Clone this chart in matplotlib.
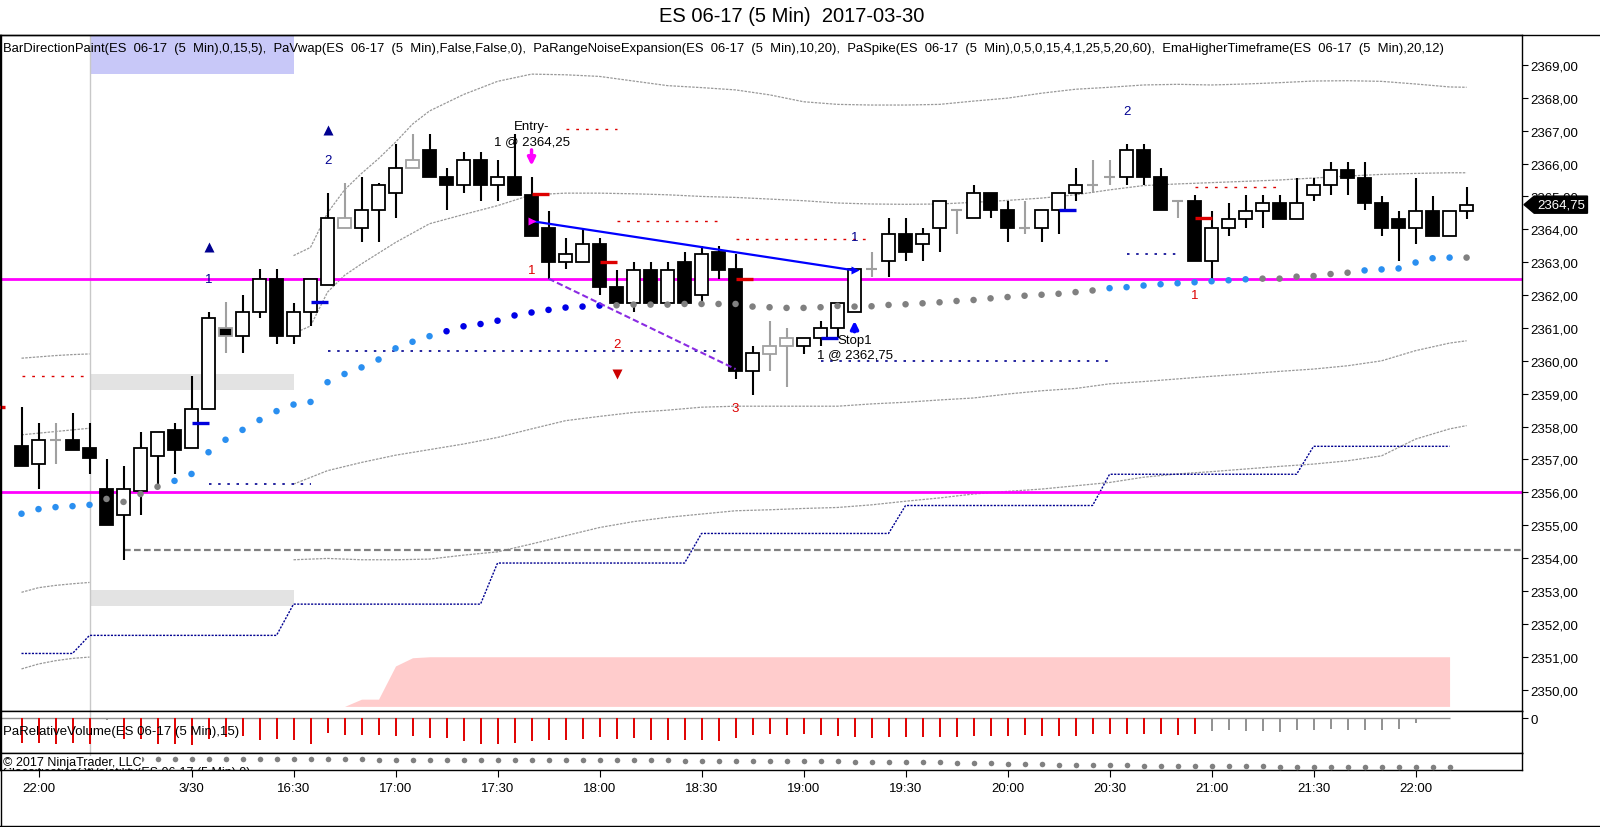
"""Recreate the NinjaTrader ES 06-17 5-minute chart for 2017-03-30."""

import matplotlib

matplotlib.use("Agg")
import matplotlib.pyplot as plt
from matplotlib.lines import Line2D
from matplotlib.patches import Polygon, Rectangle
from matplotlib.transforms import blended_transform_factory

plt.rcParams["font.family"] = ["Liberation Sans", "DejaVu Sans"]

# ---------------------------------------------------------------- data
opens = [2357.4, 2356.85, 2357.6, 2357.6, 2357.35, 2356.1, 2355.3, 2356.05, 2357.1, 2357.9,
         2357.35, 2358.55, 2361.0, 2360.75, 2361.5, 2362.5, 2360.75, 2361.5, 2362.3, 2364.05,
         2364.05, 2364.6, 2365.1, 2365.85, 2366.4, 2365.6, 2365.35, 2366.1, 2365.35, 2365.6,
         2365.05, 2364.05, 2363.0, 2363.0, 2363.55, 2362.25, 2361.75, 2362.75, 2361.75, 2363.0,
         2362.0, 2363.3, 2362.8, 2359.7, 2360.2, 2360.45, 2360.45, 2360.7, 2361.0, 2361.5,
         2362.8, 2363.05, 2363.85, 2363.55, 2364.05, 2364.6, 2364.35, 2365.1, 2364.6, 2364.05,
         2364.05, 2364.6, 2365.1, 2365.35, 2365.6, 2365.6, 2366.4, 2365.6, 2364.85, 2364.85,
         2363.05, 2364.05, 2364.3, 2364.55, 2364.8, 2364.3, 2365.05, 2365.35, 2365.8, 2365.55,
         2364.8, 2364.3, 2364.05, 2364.55, 2363.8, 2364.55]
highs = [2358.6, 2358.1, 2358.1, 2358.4, 2358.1, 2357.0, 2356.8, 2357.85, 2357.85, 2358.1,
         2359.55, 2361.5, 2361.8, 2362.0, 2362.8, 2362.8, 2361.75, 2362.5, 2365.1, 2365.4,
         2365.6, 2365.4, 2366.6, 2366.9, 2366.9, 2365.85, 2366.35, 2366.35, 2366.1, 2366.9,
         2365.6, 2364.55, 2363.75, 2364.05, 2363.75, 2362.75, 2363.0, 2363.0, 2363.0, 2363.3,
         2363.5, 2363.5, 2363.25, 2360.45, 2361.2, 2361.0, 2360.7, 2361.2, 2361.75, 2362.8,
         2363.3, 2364.35, 2364.35, 2364.05, 2364.85, 2364.6, 2365.35, 2365.1, 2364.85, 2364.85,
         2364.6, 2365.1, 2365.85, 2366.1, 2366.1, 2366.6, 2366.6, 2365.85, 2364.85, 2365.05,
         2364.55, 2364.8, 2365.05, 2365.05, 2365.05, 2365.55, 2365.55, 2366.05, 2366.05, 2366.05,
         2365.0, 2364.55, 2365.55, 2365.0, 2364.55, 2365.3]
lows = [2356.8, 2356.1, 2356.85, 2357.3, 2356.55, 2355.0, 2353.95, 2355.3, 2356.15, 2356.55,
        2357.35, 2358.55, 2360.25, 2360.25, 2361.3, 2360.5, 2360.5, 2361.05, 2362.3, 2364.05,
        2363.6, 2363.6, 2364.35, 2365.85, 2365.6, 2364.6, 2365.1, 2364.85, 2364.85, 2365.05,
        2363.8, 2362.5, 2362.8, 2363.0, 2362.0, 2361.75, 2361.5, 2361.75, 2361.75, 2361.75,
        2361.75, 2362.5, 2359.45, 2358.95, 2359.7, 2359.2, 2360.2, 2360.45, 2360.7, 2361.5,
        2362.55, 2362.55, 2363.05, 2363.05, 2363.3, 2363.85, 2364.35, 2364.35, 2363.6, 2363.85,
        2363.6, 2363.85, 2364.85, 2365.1, 2365.35, 2365.35, 2365.35, 2364.6, 2364.35, 2363.05,
        2362.5, 2363.8, 2364.05, 2364.05, 2364.3, 2364.3, 2364.85, 2365.05, 2365.05, 2364.6,
        2363.8, 2363.05, 2363.55, 2363.8, 2363.8, 2364.3]
closes = [2356.8, 2357.6, 2357.6, 2357.3, 2357.05, 2355.0, 2356.1, 2357.35, 2357.85, 2357.3,
          2358.55, 2361.3, 2360.75, 2361.5, 2362.5, 2360.75, 2361.5, 2362.5, 2364.35, 2364.35,
          2364.6, 2365.35, 2365.85, 2366.1, 2365.6, 2365.35, 2366.1, 2365.35, 2365.6, 2365.05,
          2363.8, 2363.0, 2363.25, 2363.55, 2362.25, 2361.75, 2362.75, 2361.75, 2362.75, 2361.75,
          2363.25, 2362.75, 2359.7, 2360.25, 2360.45, 2360.7, 2360.7, 2361.0, 2361.75, 2362.8,
          2362.8, 2363.85, 2363.3, 2363.85, 2364.85, 2364.6, 2365.1, 2364.6, 2364.05, 2364.05,
          2364.6, 2365.1, 2365.35, 2365.35, 2365.6, 2366.4, 2365.6, 2364.6, 2364.85, 2363.05,
          2364.05, 2364.3, 2364.55, 2364.8, 2364.3, 2364.8, 2365.35, 2365.8, 2365.55, 2364.8,
          2364.05, 2364.05, 2364.55, 2363.8, 2364.55, 2364.75]
gray_bars = [2, 12, 19, 23, 44, 45, 50, 55, 59, 63, 64, 68]

tick_bars = [1, 10, 16, 22, 28, 34, 40, 46, 52, 58, 64, 70, 76, 82]
tick_labels = ["22:00", "3/30", "16:30", "17:00", "17:30", "18:00", "18:30", "19:00",
               "19:30", "20:00", "20:30", "21:00", "21:30", "22:00"]
session_bar = 4

# PaVwap dots (one per bar) and their colour code: b=blue, d=dark blue, g=gray
vwap_dots = [2355.35, 2355.49, 2355.55, 2355.58, 2355.62, 2355.8, 2355.71, 2355.95, 2356.17, 2356.35,
             2356.56, 2357.22, 2357.6, 2357.9, 2358.2, 2358.47, 2358.67, 2358.75, 2359.35, 2359.6,
             2359.8, 2360.04, 2360.38, 2360.58, 2360.75, 2360.9, 2361.05, 2361.12, 2361.22, 2361.38,
             2361.47, 2361.55, 2361.62, 2361.65, 2361.68, 2361.69, 2361.71, 2361.71, 2361.71, 2361.73,
             2361.73, 2361.73, 2361.73, 2361.65, 2361.63, 2361.61, 2361.61, 2361.63, 2361.67, 2361.65,
             2361.66, 2361.7, 2361.72, 2361.75, 2361.78, 2361.82, 2361.85, 2361.9, 2361.94, 2361.98,
             2362.01, 2362.04, 2362.09, 2362.14, 2362.21, 2362.24, 2362.29, 2362.33, 2362.36, 2362.39,
             2362.42, 2362.45, 2362.48, 2362.5, 2362.5, 2362.56, 2362.58, 2362.64, 2362.68, 2362.75,
             2362.78, 2362.81, 2362.99, 2363.12, 2363.14, 2363.14]
vwap_dot_codes = ("bbbbb" "gggg" "bbbbbbbbbbbbbbbb" "dddddddddd"
                  "ggggggggggggggggggggggggggggg" "bbbbbbbbb" "gggggg" "bbbbbb" "g")

# VWAP bands of the current session
upper_x = [16, 17, 18, 19, 20, 21, 22, 23, 24, 26, 28, 30, 32, 34, 36, 38, 40, 42, 44, 46,
           48, 50, 52, 54, 56, 58, 60, 62, 64, 66, 68, 70, 72, 74, 76, 78, 80, 82, 84, 85]
upper_band = [2363.2, 2363.45, 2364.5, 2365.2, 2365.7, 2366.15, 2366.65, 2367.2, 2367.6, 2368.1,
              2368.5, 2368.72, 2368.7, 2368.65, 2368.51, 2368.37, 2368.31, 2368.24, 2368.09, 2367.88,
              2367.8, 2367.78, 2367.78, 2367.8, 2367.9, 2367.99, 2368.14, 2368.26, 2368.32, 2368.39,
              2368.41, 2368.39, 2368.42, 2368.46, 2368.51, 2368.52, 2368.5, 2368.42, 2368.33, 2368.32]
mid_x = [16, 17, 18, 19, 20, 22, 24, 26, 28, 30, 32, 34, 36, 38, 40, 42, 44, 46, 48, 50,
         52, 54, 56, 58, 60, 62, 64, 66, 68, 70, 72, 74, 76, 78, 80, 82, 84, 85]
mid_band = [2360.83, 2361.06, 2362.09, 2362.6, 2362.95, 2363.6, 2364.17, 2364.45, 2364.72, 2365.05,
            2365.1, 2365.1, 2365.08, 2365.05, 2365.0, 2364.97, 2364.92, 2364.87, 2364.8, 2364.77,
            2364.76, 2364.77, 2364.82, 2364.88, 2364.95, 2365.05, 2365.2, 2365.33, 2365.38, 2365.42,
            2365.46, 2365.5, 2365.56, 2365.62, 2365.67, 2365.7, 2365.72, 2365.72]
lower_x = [16, 18, 20, 22, 24, 26, 28, 30, 32, 34, 36, 38, 40, 42, 44, 46, 48, 50,
           52, 54, 56, 58, 60, 62, 64, 66, 68, 70, 72, 74, 76, 78, 80, 82, 84, 85]
lower_band1 = [2356.25, 2356.66, 2356.91, 2357.13, 2357.3, 2357.47, 2357.67, 2357.93, 2358.18,
               2358.31, 2358.43, 2358.5, 2358.59, 2358.62, 2358.62, 2358.62, 2358.62, 2358.69,
               2358.74, 2358.81, 2358.87, 2358.99, 2359.09, 2359.16, 2359.3, 2359.37, 2359.45,
               2359.53, 2359.6, 2359.68, 2359.75, 2359.85, 2360.0, 2360.31, 2360.54, 2360.61]
lower_band2 = [2353.95, 2353.99, 2353.95, 2353.95, 2353.97, 2354.09, 2354.19, 2354.43, 2354.68,
               2354.93, 2355.11, 2355.24, 2355.34, 2355.44, 2355.47, 2355.51, 2355.54, 2355.62,
               2355.73, 2355.83, 2355.95, 2356.03, 2356.1, 2356.2, 2356.3, 2356.46, 2356.56,
               2356.63, 2356.71, 2356.79, 2356.86, 2356.96, 2357.11, 2357.62, 2357.93, 2358.03]

# Bands of the previous session (bars 0-4)
prev_x = [0, 1, 2, 3, 4]
prev_band_a = [2360.08, 2360.12, 2360.16, 2360.19, 2360.21]
prev_band_b = [2357.75, 2357.8, 2357.85, 2357.9, 2357.95]
prev_band_c = [2352.96, 2353.1, 2353.17, 2353.22, 2353.26]
prev_band_d = [2350.63, 2350.78, 2350.88, 2350.95, 2350.99]

# EmaHigherTimeframe steps
ema_levels = [2351.1, 2351.65, 2352.6, 2353.85, 2354.75, 2355.6, 2356.55, 2357.4]
ema_first_bar = [0, 4, 16, 28, 40, 52, 64, 76]
ema_last_bar = 84

# Key levels
magenta_levels = [2362.5, 2356.0]
gray_dash_level = 2354.25
gray_dash_start = 6

# PaSpike dashed target lines
red_spike_start = [0, 32, 35, 42, 69]
red_spike_end = [4, 35, 41, 50, 74]
red_spike_price = [2359.53, 2367.05, 2364.25, 2363.72, 2365.3]
navy_spike_start = [11, 18, 47, 65]
navy_spike_end = [17, 41, 64, 68]
navy_spike_price = [2356.25, 2360.29, 2360.0, 2363.25]

# Short marker ticks
red_mark_bar = [-2, 30, 34, 42, 69]
red_mark_price = [2358.59, 2365.06, 2363.01, 2362.5, 2364.33]
blue_mark_bar = [10, 17, 47, 61]
blue_mark_price = [2358.11, 2361.78, 2360.7, 2364.6]

# Signal counters
navy_label_bar = [11, 18, 49, 65]
navy_label_price = [2362.5, 2366.1, 2363.77, 2367.6]
navy_label_text = ["1", "2", "1", "2"]
red_label_bar = [30, 35, 42, 69]
red_label_price = [2362.75, 2360.5, 2358.56, 2362.0]
red_label_text = ["1", "2", "3", "1"]
up_tri_bar = [11, 18]
up_tri_price = [2363.46, 2367.03]
down_tri_bar = [35]
down_tri_price = [2359.6]

# Zones
zone_start, zone_end = 4, 16
top_zone_low = 2368.72
gray_zone_lows = [2359.1, 2352.53]
gray_zone_highs = [2359.6, 2353.03]
range_x = [19, 20, 21, 22, 23, 24, 84]
range_top = [2349.49, 2349.71, 2349.71, 2350.72, 2350.97, 2351.0, 2351.0]
range_bottom = 2349.49

# Trade
entry_bar, entry_price = 30, 2364.25
exit_bar, exit_price = 49, 2362.75
swing_start = (31, 2362.5)
swing_end = (42, 2359.75)
last_price = 2364.75

# Relative volume (bars 0-83) and lower indicator dots (bars 0-84)
rel_volume = [-75, -75, -78, -75, -78, -6, -62, -62, -78, -78,
              -82, -62, -57, -55, -65, -62, -65, -78, -45, -50,
              -52, -52, -55, -55, -60, -60, -70, -78, -78, -75,
              -70, -65, -65, -62, -57, -62, -60, -65, -65, -65,
              -65, -70, -60, -52, -48, -52, -49, -52, -55, -58,
              -60, -58, -58, -58, -58, -58, -55, -55, -55, -52,
              -55, -55, -55, -49, -49, -49, -49, -49, -52, -49,
              -40, -37, -40, -40, -42, -37, -37, -34, -37, -37,
              -37, -34, -16, -1]
last_red_volume_bar = 69
weak_volume_bars = [5]
lower_dots = [-20, -20, -20, -20, -20, -20, -20, -20, -20, -20,
              -20, -20, -20, -20, -20, -20, -20, -20, -20, -20,
              -20, -21, -21, -21, -21, -21, -21, -21, -21, -21,
              -21, -23, -23, -23, -23, -23, -23, -23, -23, -25,
              -25, -25, -25, -25, -25, -25, -24, -25, -25, -27,
              -27, -27, -27, -29, -29, -31, -31, -33, -35, -35,
              -35, -37, -38, -38, -38, -38, -40, -40, -40, -40,
              -40, -40, -40, -42, -43, -43, -43, -45, -45, -45,
              -45, -45, -45, -45, -45]

legend_text = ("BarDirectionPaint(ES  06-17  (5  Min),0,15,5),  PaVwap(ES  06-17  (5  Min),False,False,0),  "
               "PaRangeNoiseExpansion(ES  06-17  (5  Min),10,20),  "
               "PaSpike(ES  06-17  (5  Min),0,5,0,15,4,1,25,5,20,60),  "
               "EmaHigherTimeframe(ES  06-17  (5  Min),20,12)")

# ---------------------------------------------------------------- layout
W, H = 1600, 828
XLIM = (-1.265, 88.26)
YLIM = (2349.35, 2369.91)
RED = "#dd0000"
NAVY = "#000090"
GRAY_BAR = "#a0a0a0"
BAND = "#999999"
DOT_COLORS = {"b": "#2a8ff0", "d": "#0000e6", "g": "#808080"}
FS = 9.5


def box(left, top, right, bottom):
    return [left / W, 1 - bottom / H, (right - left) / W, (bottom - top) / H]


fig = plt.figure(figsize=(W / 100, H / 100), dpi=100)
ax = fig.add_axes(box(0, 36, 1522, 712))
axv = fig.add_axes(box(0, 712, 1522, 754))
axd = fig.add_axes(box(0, 754, 1522, 771))

for a in (ax, axv, axd):
    a.set_xlim(*XLIM)
    for s in a.spines.values():
        s.set_linewidth(1.0)
        s.set_color("black")
    a.axvline(session_bar, color="#c8c8c8", lw=1, zorder=1)

ax.set_ylim(*YLIM)

# zones
ax.add_patch(Rectangle((zone_start, top_zone_low), zone_end - zone_start, 3,
                       facecolor="#c8c8f8", edgecolor="none", zorder=0.5))
for lo, hi in zip(gray_zone_lows, gray_zone_highs):
    ax.add_patch(Rectangle((zone_start, lo), zone_end - zone_start, hi - lo,
                           facecolor="#e3e3e3", edgecolor="none", zorder=0.5))
ax.fill_between(range_x, range_bottom, range_top, color="#ffcccc", lw=0, zorder=0.6)

# key levels
for lvl in magenta_levels:
    ax.axhline(lvl, color="#ff00ff", lw=2, zorder=2)
ax.hlines(gray_dash_level, gray_dash_start, XLIM[1], colors="#808080",
          linestyles=(0, (3, 1.5)), lw=1.6, zorder=2)

# vwap bands
band_style = dict(color=BAND, lw=0.9, ls=(0, (2, 1)), zorder=1.5)
ax.plot(upper_x, upper_band, **band_style)
ax.plot(mid_x, mid_band, **band_style)
ax.plot(lower_x, lower_band1, **band_style)
ax.plot(lower_x, lower_band2, **band_style)
for band in (prev_band_a, prev_band_b, prev_band_c, prev_band_d):
    ax.plot(prev_x, band, **band_style)

# higher timeframe ema steps
ema_x, ema_y = [], []
for k, lvl in enumerate(ema_levels):
    end = ema_first_bar[k + 1] - 1 if k + 1 < len(ema_first_bar) else ema_last_bar
    ema_x += [ema_first_bar[k], end]
    ema_y += [lvl, lvl]
ax.plot(ema_x, ema_y, color=NAVY, lw=1.0, ls=(0, (1.5, 1)), zorder=1.8)

# spike target lines
for s, e, p in zip(red_spike_start, red_spike_end, red_spike_price):
    ax.hlines(p, s, e, colors=RED, linestyles=(0, (2, 5)), lw=1.0, zorder=2)
for s, e, p in zip(navy_spike_start, navy_spike_end, navy_spike_price):
    ax.hlines(p, s, e, colors=NAVY, linestyles=(0, (1.5, 4)), lw=1.2, zorder=2)

# candles
for i, (o, h, l, c) in enumerate(zip(opens, highs, lows, closes)):
    edge = GRAY_BAR if i in gray_bars else "black"
    fill = "white" if c >= o else "black"
    ax.vlines(i, l, h, color=edge, lw=1.5, zorder=4)
    lo, hi = min(o, c), max(o, c)
    if hi - lo < 0.02:
        ax.hlines(lo, i - 0.34, i + 0.34, color=edge, lw=1.5, zorder=5)
    else:
        ax.add_patch(Rectangle((i - 0.36, lo), 0.72, hi - lo, facecolor=fill,
                               edgecolor=edge, lw=1.3, zorder=5))

# vwap dots
ax.scatter(range(len(vwap_dots)), vwap_dots, s=22,
           c=[DOT_COLORS[k] for k in vwap_dot_codes], lw=0, zorder=6)

# marker ticks
for b, p in zip(red_mark_bar, red_mark_price):
    ax.hlines(p, b, b + 1, colors=RED, lw=2.4, zorder=6)
for b, p in zip(blue_mark_bar, blue_mark_price):
    ax.hlines(p, b, b + 1, colors="#0000dd", lw=2.4, zorder=6)

# signal counters
for b, p, t in zip(navy_label_bar, navy_label_price, navy_label_text):
    ax.text(b, p, t, color=NAVY, fontsize=FS, ha="center", va="center", zorder=7)
for b, p, t in zip(red_label_bar, red_label_price, red_label_text):
    ax.text(b, p, t, color=RED, fontsize=FS, ha="center", va="center", zorder=7)
ax.plot(up_tri_bar, up_tri_price, "^", color=NAVY, ms=7, mec="none", zorder=7)
ax.plot(down_tri_bar, down_tri_price, "v", color="#cc0000", ms=7, mec="none", zorder=7)

# trade
ax.plot([entry_bar, exit_bar], [entry_price, exit_price], color="#0000ff", lw=1.6, zorder=6)
ax.plot(*zip(swing_start, swing_end), color="#8a2be2", lw=1.5, ls=(0, (3, 1.5)), zorder=6)
ax.plot(entry_bar, entry_price, ">", color="#ff00ff", ms=6, mec="none", zorder=7)
ax.plot(exit_bar, exit_price, ">", color="#0000ff", ms=6, mec="none", zorder=7)
ax.annotate("", xy=(entry_bar, 2365.85), xytext=(entry_bar, 2366.5),
            arrowprops=dict(arrowstyle="-|>", color="#ff00ff", lw=2.5, mutation_scale=11),
            zorder=7)
ax.annotate("", xy=(exit_bar, 2361.3), xytext=(exit_bar, 2360.8),
            arrowprops=dict(arrowstyle="-|>", color="#0000ff", lw=2.5, mutation_scale=11),
            zorder=7)
ax.text(entry_bar, 2367.15, "Entry-", fontsize=FS, ha="center", va="center", zorder=7)
ax.text(entry_bar, 2366.67, "1 @ 2364,25", fontsize=FS, ha="center", va="center", zorder=7)
ax.text(exit_bar, 2360.64, "Stop1", fontsize=FS, ha="center", va="center", zorder=7)
ax.text(exit_bar, 2360.21, "1 @ 2362,75", fontsize=FS, ha="center", va="center", zorder=7)

ax.text(0.002, 0.981, legend_text, transform=ax.transAxes, fontsize=9.4, va="center", zorder=8)

# price axis
ax.yaxis.tick_right()
ax.set_yticks(range(2350, 2370))
ax.set_yticklabels([f"{v:.2f}".replace(".", ",") for v in range(2350, 2370)])
ax.tick_params(axis="y", labelsize=FS, length=4, pad=2)
ax.tick_params(axis="x", bottom=False, labelbottom=False)

# last price flag
tr = blended_transform_factory(ax.transAxes, ax.transData)
hh = 0.26
ax.add_patch(Polygon([(1.0013, last_price), (1.008, last_price + hh), (1.043, last_price + hh),
                      (1.043, last_price - hh), (1.008, last_price - hh)], closed=True,
                     facecolor="black", edgecolor="black", transform=tr, clip_on=False, zorder=10))
ax.text(1.026, last_price, f"{last_price:.2f}".replace(".", ","), color="white", fontsize=FS,
        ha="center", va="center", transform=tr, clip_on=False, zorder=11)

# relative volume panel
vol_colors = ["#909090" if (i > last_red_volume_bar or i in weak_volume_bars) else "#e00000"
              for i in range(len(rel_volume))]
axv.vlines(range(len(rel_volume)), 0, rel_volume, colors=vol_colors, lw=1.4, zorder=3)
axv.hlines(0, XLIM[0], len(rel_volume), colors="#909090", lw=1.0, zorder=2)
axv.set_ylim(-105, 21)
axv.yaxis.tick_right()
axv.set_yticks([0])
axv.set_yticklabels(["0"])
axv.tick_params(axis="y", labelsize=FS, length=4, pad=2)
axv.tick_params(axis="x", bottom=False, labelbottom=False)
axv.text(0.002, 0.53, "PaRelativeVolume(ES 06-17 (5 Min),15)", transform=axv.transAxes,
         fontsize=FS, va="center", zorder=5)

# lower dots panel
axd.plot(range(len(lower_dots)), lower_dots, "o", color="#808080", ms=4, mec="none", zorder=3)
axd.set_ylim(-54, 0)
axd.set_yticks([])
axd.set_xticks(tick_bars)
axd.set_xticklabels(tick_labels)
axd.tick_params(axis="x", labelsize=FS, length=5, pad=4)
axd.text(0.002, 0.47, "\u00a9 2017 NinjaTrader, LLC", transform=axd.transAxes, fontsize=9,
         va="center", zorder=5, bbox=dict(facecolor="white", edgecolor="none", pad=0))
axd.text(0.002, -0.12, "ClassificationOfVolatility(ES 06-17 (5 Min),0)", transform=axd.transAxes,
         fontsize=9, va="center", clip_on=True, zorder=4)

# outer frame and title
for xs, ys in (([0, 1], [1 - 36 / H] * 2), ([0, 1], [1.2 / H] * 2), ([0.5 / W] * 2, [1.2 / H, 1 - 36 / H])):
    fig.add_artist(Line2D(xs, ys, transform=fig.transFigure, color="black", lw=1.0))
fig.text(0.495, 1 - 16 / H, "ES 06-17 (5 Min)  2017-03-30", fontsize=14.5, ha="center", va="center")

fig.savefig("out.png", dpi=100)
